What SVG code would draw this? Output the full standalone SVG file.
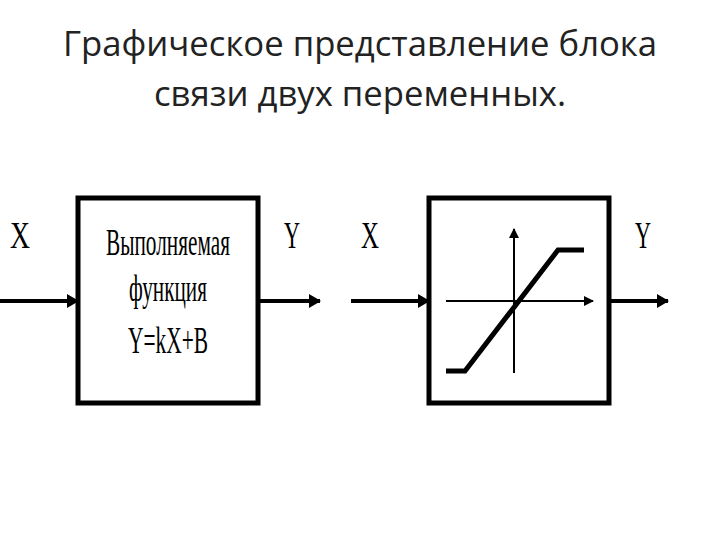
<svg xmlns="http://www.w3.org/2000/svg" width="720" height="540" viewBox="0 0 720 540">
<style>
.t{font-family:"Open Sans","Liberation Sans",sans-serif;font-size:34px;fill:#222;text-anchor:middle}
.s{font-family:"Liberation Serif",serif;fill:#000}
.box{fill:#fff;stroke:#000;stroke-width:5}
.ln{stroke:#000;stroke-width:4;fill:none}
</style>
<defs><marker id="a" markerWidth="10" markerHeight="10" refX="9" refY="5" orient="auto" markerUnits="userSpaceOnUse" viewBox="0 0 10 10"><path d="M0,0L10,5L0,10z" fill="#000"/></marker>
<marker id="b" markerWidth="12" markerHeight="14" refX="11" refY="7" orient="auto" markerUnits="userSpaceOnUse" viewBox="0 0 12 14"><path d="M0,0L12,7L0,14z" fill="#000"/></marker></defs>
<rect width="720" height="540" fill="#fff"/>
<text class="t" x="360" y="56" textLength="594" lengthAdjust="spacingAndGlyphs">Графическое представление блока</text>
<text class="t" x="360" y="106" textLength="412" lengthAdjust="spacingAndGlyphs">связи двух переменных.</text>
<g id="connectors">
<line class="ln" x1="0" y1="301" x2="78" y2="301" marker-end="url(#b)"/>
<line class="ln" x1="258" y1="301" x2="320" y2="301" marker-end="url(#b)"/>
<line class="ln" x1="351" y1="301" x2="429" y2="301" marker-end="url(#b)"/>
<line class="ln" x1="609" y1="301" x2="668" y2="301" marker-end="url(#b)"/>
</g>
<g id="labels" class="s" font-size="38">
<text x="20" y="248" text-anchor="middle" textLength="20" lengthAdjust="spacingAndGlyphs">X</text>
<text x="292" y="248" text-anchor="middle" textLength="16" lengthAdjust="spacingAndGlyphs">Y</text>
<text x="370" y="248" text-anchor="middle" textLength="18" lengthAdjust="spacingAndGlyphs">X</text>
<text x="643" y="248" text-anchor="middle" textLength="16" lengthAdjust="spacingAndGlyphs">Y</text>
</g>
<g id="block1">
<rect class="box" x="78" y="198" width="180" height="205"/>
<g class="s" font-size="38">
<text x="106" y="255" textLength="124" lengthAdjust="spacingAndGlyphs">Выполняемая</text>
<text x="129" y="301" textLength="78" lengthAdjust="spacingAndGlyphs">функция</text>
<text x="128" y="353" textLength="80" lengthAdjust="spacingAndGlyphs">Y=kX+B</text>
</g>
</g>
<g id="block2">
<rect class="box" x="429" y="198" width="180" height="205"/>
<line x1="446" y1="301" x2="593" y2="301" stroke="#000" stroke-width="2" marker-end="url(#a)"/>
<line x1="514" y1="373" x2="514" y2="229" stroke="#000" stroke-width="2" marker-end="url(#a)"/>
<polyline points="446,371 465,371 558,250 584,250" fill="none" stroke="#000" stroke-width="5"/>
</g>
</svg>
